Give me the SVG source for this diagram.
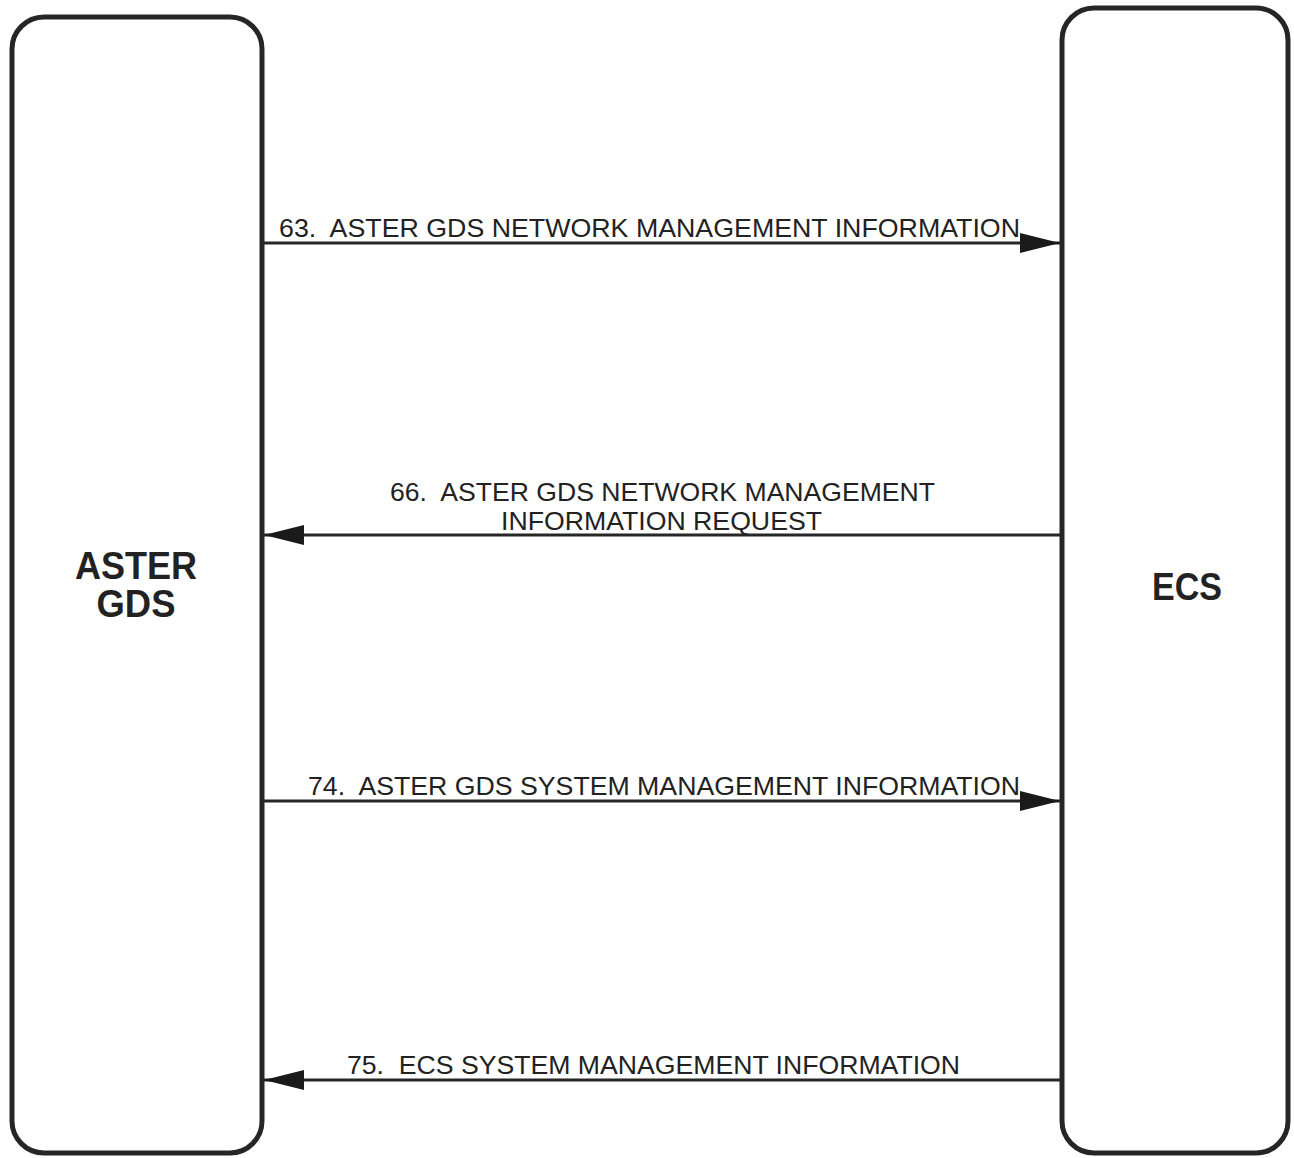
<svg xmlns="http://www.w3.org/2000/svg" width="1294" height="1158" viewBox="0 0 1294 1158">
<defs>
<style>
.box{fill:#fff;stroke:#262626;stroke-width:5}
.conn{stroke:#262626;stroke-width:3;fill:none}
.lbl{font-family:"Liberation Sans",Arial,sans-serif;font-size:26px;fill:#222;white-space:pre}
.ttl{font-family:"Liberation Sans",Arial,sans-serif;font-size:38px;font-weight:bold;fill:#222;text-anchor:middle}
</style>
<marker id="ah" viewBox="0 0 40 20" refX="40" refY="10" markerWidth="40" markerHeight="20" markerUnits="userSpaceOnUse" orient="auto">
<path d="M0,0 L40,10 L0,20 Z" fill="#1a1a1a"/>
</marker>
</defs>
<rect width="1294" height="1158" fill="#fff"/>
<g id="node-aster-gds">
<rect class="box" x="12" y="17" width="250" height="1136" rx="32"/>
<text class="ttl" x="136" y="579" textLength="122" lengthAdjust="spacingAndGlyphs">ASTER</text>
<text class="ttl" x="136" y="617" textLength="79" lengthAdjust="spacingAndGlyphs">GDS</text>
</g>
<g id="node-ecs">
<rect class="box" x="1062" y="8" width="226" height="1145" rx="32"/>
<text class="ttl" x="1187" y="600" textLength="70" lengthAdjust="spacingAndGlyphs">ECS</text>
</g>
<g id="connectors">
<line class="conn" x1="264" y1="243" x2="1060" y2="243" marker-end="url(#ah)"/>
<line class="conn" x1="1060" y1="535" x2="264" y2="535" marker-end="url(#ah)"/>
<line class="conn" x1="264" y1="801" x2="1060" y2="801" marker-end="url(#ah)"/>
<line class="conn" x1="1060" y1="1080" x2="264" y2="1080" marker-end="url(#ah)"/>
<text class="lbl" xml:space="preserve" x="279" y="237" textLength="741" lengthAdjust="spacingAndGlyphs">63.  ASTER GDS NETWORK MANAGEMENT INFORMATION</text>
<text class="lbl" xml:space="preserve" x="390" y="501" textLength="545" lengthAdjust="spacingAndGlyphs">66.  ASTER GDS NETWORK MANAGEMENT</text>
<text class="lbl" x="501" y="530" textLength="321" lengthAdjust="spacingAndGlyphs">INFORMATION REQUEST</text>
<text class="lbl" xml:space="preserve" x="308" y="795" textLength="712" lengthAdjust="spacingAndGlyphs">74.  ASTER GDS SYSTEM MANAGEMENT INFORMATION</text>
<text class="lbl" xml:space="preserve" x="347" y="1074" textLength="613" lengthAdjust="spacingAndGlyphs">75.  ECS SYSTEM MANAGEMENT INFORMATION</text>
</g>
</svg>
